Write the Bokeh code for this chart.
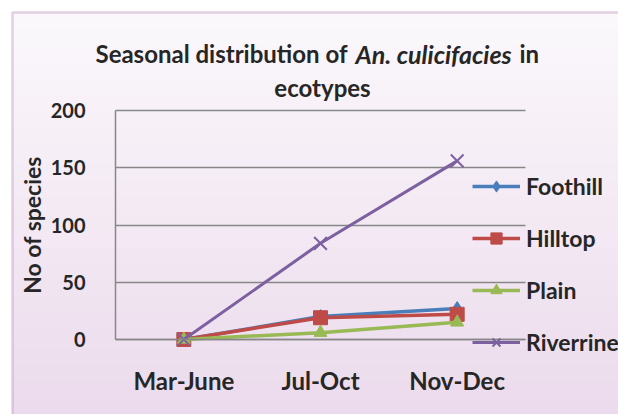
from bokeh.plotting import figure
from bokeh.models import (Range1d, Label, BoxAnnotation, Legend, LegendItem, LinearAxis,
                          FixedTicker, Grid)
from bokeh.embed import file_html
from bokeh.resources import INLINE

# ---- data ----
seasons = ["Mar-June", "Jul-Oct", "Nov-Dec"]
foothill = [0, 20, 27]
hilltop = [0, 19, 22]
plain = [0, 6, 15]
riverrine = [0, 84, 156]
y_ticks = [0, 50, 100, 150, 200]

xs = [i + 0.5 for i in range(len(seasons))]   # category centres

FONT = "Lato"
TXT = "#262626"
W, H = 618, 414

# layout of the plot box in canvas pixels
AX_L, AX_R = 115, 525      # x = 0 .. number of categories
AX_T, AX_B = 110, 339      # y = 200 .. 0
ppx = (AX_R - AX_L) / len(seasons)
ppy = (AX_B - AX_T) / (y_ticks[-1] - y_ticks[0])
x0, x1 = -AX_L / ppx, (W - AX_L) / ppx
y1, y0 = y_ticks[-1] + AX_T / ppy, -(H - AX_B) / ppy


def dx(px):
    return x0 + px / ppx


def dy(py):
    return y1 - py / ppy


p = figure(width=W, height=H, x_range=Range1d(x0, x1), y_range=Range1d(y0, y1),
           output_backend="svg", toolbar_location=None, title=None,
           x_axis_location=None, y_axis_location=None, min_border=0)
p.border_fill_color = "white"
p.background_fill_color = "white"
p.outline_line_color = None
p.xgrid.visible = False
p.ygrid.visible = False

# gradient-like background + purple border
top_c = (251, 248, 251)
bot_c = (236, 219, 236)
n = 24
band = (H - 12) / n
for i in range(n):
    t = i / (n - 1)
    c = tuple(int(round(top_c[k] + (bot_c[k] - top_c[k]) * t)) for k in range(3))
    p.add_layout(BoxAnnotation(left=dx(12), right=dx(W + 20), top=dy(12 + i * band),
                               bottom=dy(12 + (i + 1) * band + 1),
                               fill_color="#%02x%02x%02x" % c, fill_alpha=1,
                               line_color=None, level="image"))
p.add_layout(BoxAnnotation(left=dx(12), right=dx(W + 20), top=dy(12), bottom=dy(H + 20),
                           fill_alpha=0, line_color="#a06ea6", line_width=2.5, level="image"))

# grid (horizontal lines only across the plot box)
grid_kw = dict(dimension=1, ticker=FixedTicker(ticks=y_ticks),
               grid_line_color="#878787", grid_line_width=1.5)
if "cross_bounds" in Grid.properties():
    p.add_layout(Grid(cross_bounds=(0, len(seasons)), **grid_kw))
else:
    p.segment(x0=[0] * len(y_ticks), x1=[len(seasons)] * len(y_ticks), y0=y_ticks, y1=y_ticks,
              line_color="#878787", line_width=1.5, level="underlay")

# axes
yax = LinearAxis(fixed_location=0, bounds=(y_ticks[0], y_ticks[-1]),
                 ticker=FixedTicker(ticks=y_ticks))
xax = LinearAxis(fixed_location=0, bounds=(0, len(seasons)),
                 ticker=FixedTicker(ticks=xs),
                 major_label_overrides={x: s for x, s in zip(xs, seasons)})
for ax in (xax, yax):
    ax.axis_line_color = "#878787"
    ax.axis_line_width = 1.5
    ax.major_tick_line_color = None
    ax.minor_tick_line_color = None
    ax.major_label_text_font = FONT
    ax.major_label_text_font_style = "bold"
    ax.major_label_text_color = TXT
xax.major_label_text_font_size = "24px"
yax.major_label_text_font_size = "20px"
xax.major_label_standoff = 20
yax.major_label_standoff = 24
yax.axis_label = "No of species"
yax.axis_label_text_font = FONT
yax.axis_label_text_font_style = "bold"
yax.axis_label_text_font_size = "23px"
yax.axis_label_text_color = TXT
yax.axis_label_standoff = 2
p.add_layout(yax, "left")
p.add_layout(xax, "below")

# series
r1 = p.line(xs, foothill, line_color="#4a7ebb", line_width=3.5)
m1 = p.scatter(xs, foothill, marker="diamond", size=14, fill_color="#4a7ebb", line_color="#4a7ebb")
r2 = p.line(xs, hilltop, line_color="#be4b48", line_width=3.5)
m2 = p.scatter(xs, hilltop, marker="square", size=14, fill_color="#be4b48", line_color="#be4b48")
r3 = p.line(xs, plain, line_color="#98b954", line_width=3.5)
m3 = p.scatter(xs, plain, marker="triangle", size=13, fill_color="#98b954", line_color="#98b954")
r4 = p.line(xs, riverrine, line_color="#7d60a0", line_width=3)
m4 = p.scatter(xs, riverrine, marker="x", size=18, line_color="#7d60a0", line_width=2)

legend = Legend(items=[LegendItem(label="Foothill", renderers=[r1, m1]),
                       LegendItem(label="Hilltop", renderers=[r2, m2]),
                       LegendItem(label="Plain", renderers=[r3, m3]),
                       LegendItem(label="Riverrine", renderers=[r4, m4])],
                location=(472, H - 356), orientation="vertical")
legend.padding = 0
legend.margin = 0
legend.spacing = 24
legend.glyph_width = 48
legend.glyph_height = 28
legend.label_height = 28
legend.label_standoff = 6
legend.label_text_font = FONT
legend.label_text_font_style = "bold"
legend.label_text_font_size = "23px"
legend.label_text_color = TXT
legend.background_fill_alpha = 0
legend.border_line_color = None
p.add_layout(legend, "center")

# title (mixed bold / bold italic)
title_parts = [("Seasonal distribution of", "bold", "24px", 95, 53, "left"),
               ("An. culicifacies", "bold italic", "25px", 355, 53, "left"),
               ("in", "bold", "24px", 519, 53, "left"),
               ("ecotypes", "bold", "24px", 322, 87, "center")]
for txt, style, size, px, py, align in title_parts:
    p.add_layout(Label(text=txt, x=dx(px), y=dy(py),
                       text_font=FONT, text_font_style=style, text_font_size=size,
                       text_color=TXT, text_align=align, text_baseline="middle"))

open("out.html", "w").write(file_html(p, INLINE))
